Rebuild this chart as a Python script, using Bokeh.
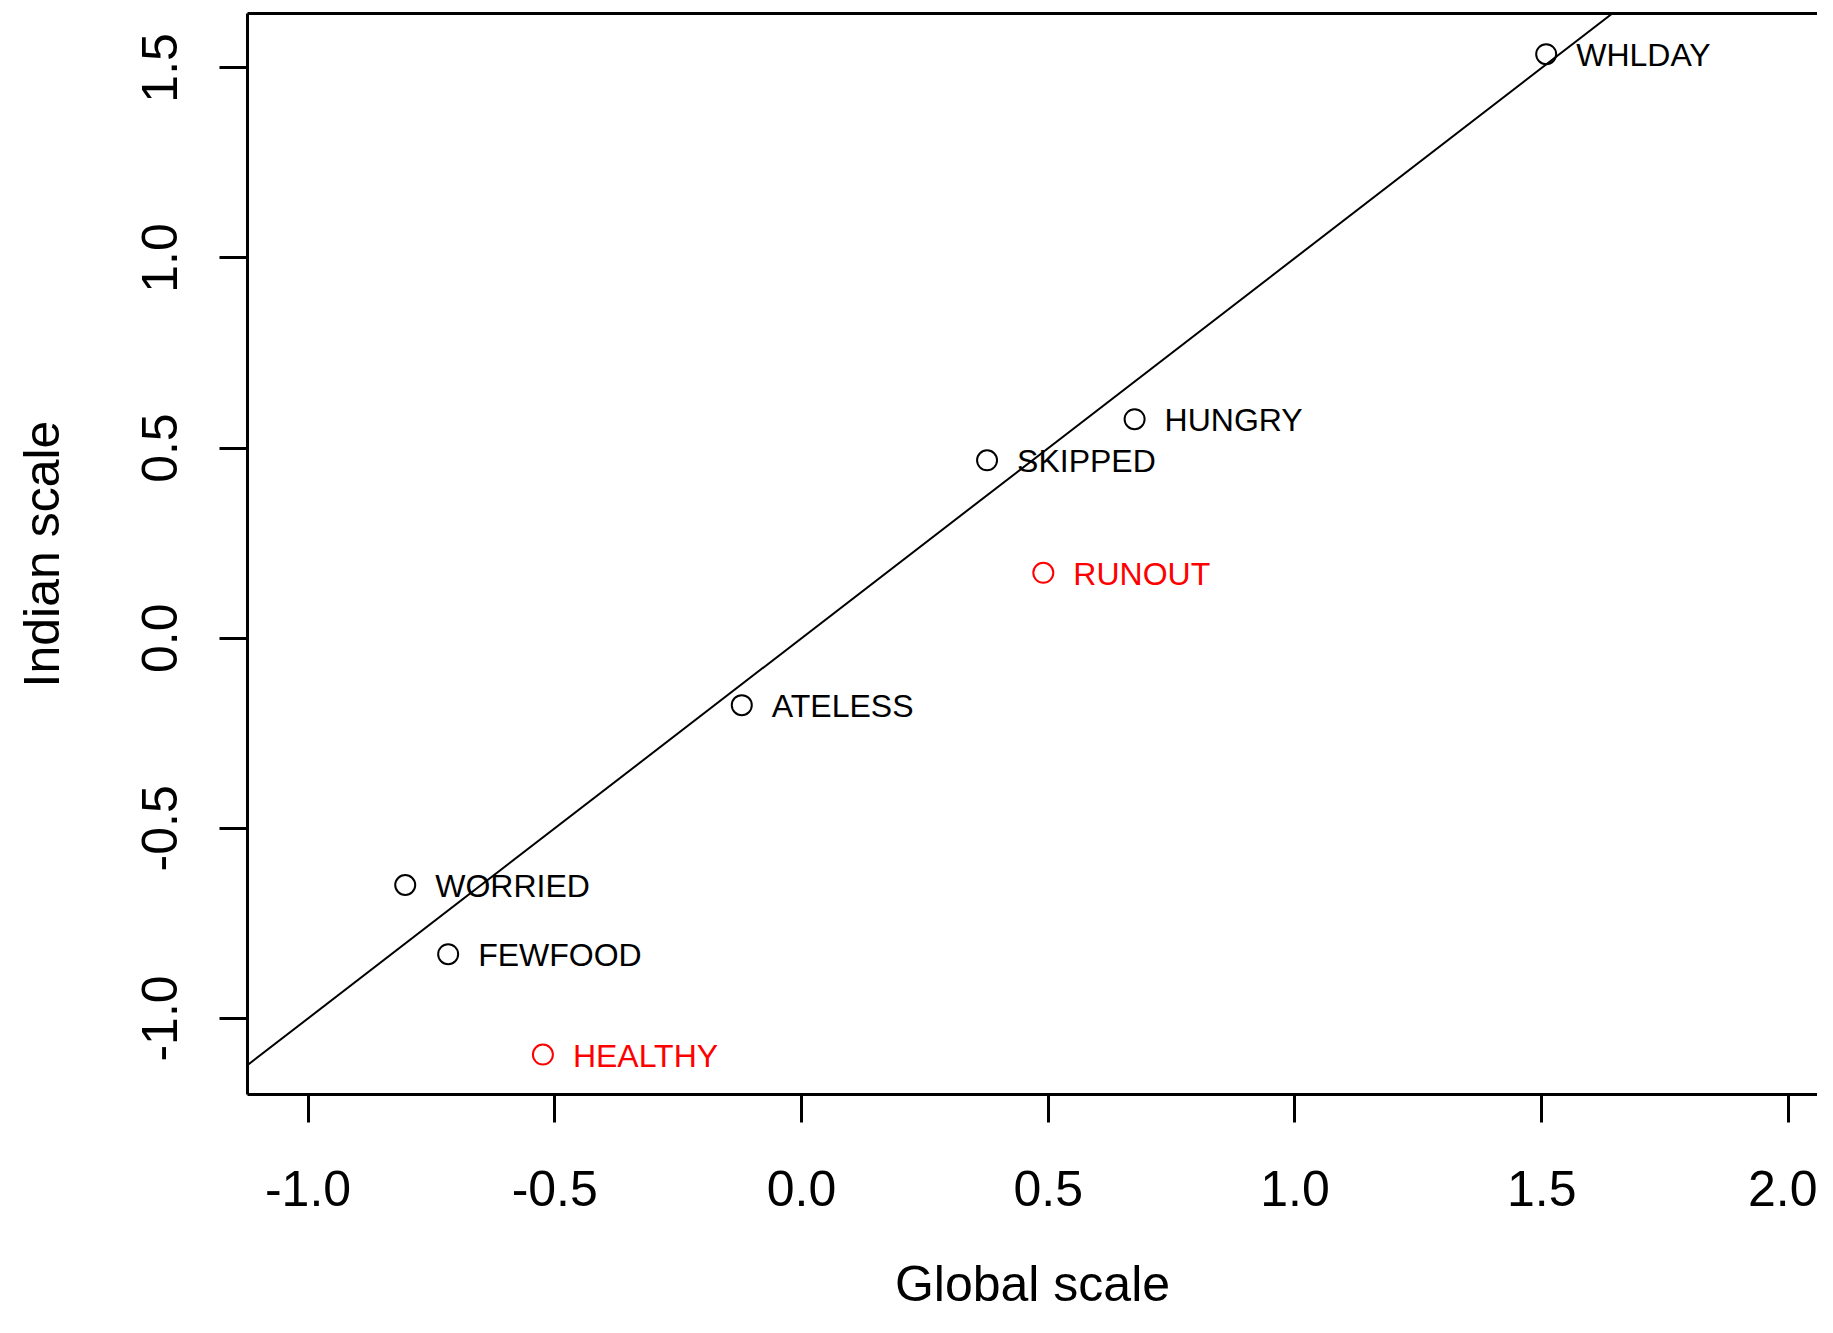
from bokeh.plotting import figure
from bokeh.models import Range1d, LinearAxis, FixedTicker, Slope, ColumnDataSource
from bokeh.core.properties import value
from bokeh.embed import file_html
from bokeh.resources import INLINE

# ---- data ----
items = ["WHLDAY", "HUNGRY", "SKIPPED", "RUNOUT", "ATELESS", "WORRIED", "FEWFOOD", "HEALTHY"]
global_scale = [1.509, 0.675, 0.376, 0.490, -0.121, -0.803, -0.716, -0.524]
indian_scale = [1.536, 0.576, 0.468, 0.172, -0.176, -0.649, -0.831, -1.095]
misfit = [False, False, False, True, False, False, False, True]

x_ticks = [-1.0, -0.5, 0.0, 0.5, 1.0, 1.5, 2.0]
x_tick_labels = ["-1.0", "-0.5", "0.0", "0.5", "1.0", "1.5", "2.0"]
y_ticks = [-1.0, -0.5, 0.0, 0.5, 1.0, 1.5]
y_tick_labels = ["-1.0", "-0.5", "0.0", "0.5", "1.0", "1.5"]

FONT = "Liberation Sans"

colors = ["red" if m else "black" for m in misfit]
src = ColumnDataSource(dict(x=global_scale, y=indian_scale, name=items, color=colors))

p = figure(width=1817, height=1317,
           x_range=Range1d(-1.1226, 2.0588), y_range=Range1d(-1.200, 1.643),
           output_backend="svg", toolbar_location=None,
           min_border_left=247, min_border_right=0, min_border_top=13, min_border_bottom=223,
           x_axis_label="Global scale", y_axis_label="Indian scale")
p.grid.visible = False
p.outline_line_color = None
p.background_fill_color = "white"
p.border_fill_color = "white"

for ax in (p.xaxis[0], p.yaxis[0]):
    ax.minor_tick_line_color = None
    ax.major_tick_in = 0
    ax.major_tick_out = 28
    ax.major_tick_line_width = 3
    ax.axis_line_width = 3
    ax.major_label_text_font = FONT
    ax.major_label_text_font_size = "50px"
    ax.major_label_text_color = "black"
    ax.axis_label_text_font = FONT
    ax.axis_label_text_font_size = "50px"
    ax.axis_label_text_font_style = "normal"
    ax.axis_label_text_color = "black"

p.xaxis.ticker = FixedTicker(ticks=x_ticks)
p.xaxis.major_label_overrides = dict(zip(x_ticks, x_tick_labels))
p.xaxis.major_label_standoff = 48
p.xaxis.axis_label_standoff = 47

p.yaxis.ticker = FixedTicker(ticks=y_ticks)
p.yaxis.major_label_overrides = dict(zip(y_ticks, y_tick_labels))
p.yaxis.major_label_orientation = "vertical"
p.yaxis.major_label_standoff = 42
p.yaxis.axis_label_standoff = 70

top_axis = LinearAxis(ticker=FixedTicker(ticks=[]), axis_line_width=3,
                      major_tick_out=0, major_tick_in=0, minor_tick_line_color=None,
                      major_label_text_font_size="0px", major_label_standoff=0)
p.add_layout(top_axis, "above")

p.add_layout(Slope(gradient=1, y_intercept=0, line_color="black", line_width=2))

p.scatter(x="x", y="y", source=src, marker="circle", size=20,
          fill_color=None, line_color="color", line_width=2)
p.text(x="x", y="y", text="name", source=src, x_offset=30, y_offset=1,
       text_baseline="middle", text_align="left",
       text_font=value(FONT), text_font_size="32px", text_color="color")

open("out.html", "w").write(file_html(p, INLINE))
